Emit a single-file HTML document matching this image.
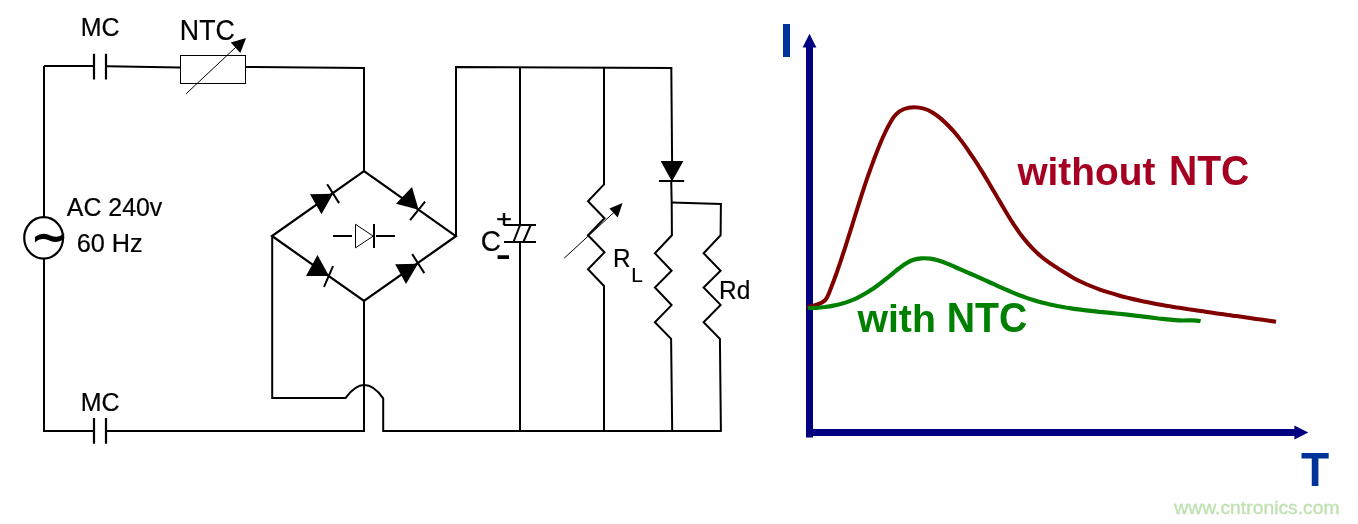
<!DOCTYPE html>
<html lang="en">
<head>
<meta charset="utf-8">
<title>NTC inrush current limiting circuit</title>
<style>
  html, body { margin: 0; padding: 0; background: #ffffff; }
  body { width: 1358px; height: 524px; overflow: hidden; }
  svg { display: block; will-change: transform; }
  text { font-family: "Liberation Sans", sans-serif; }
  .w  { fill: none; stroke: #000; stroke-width: 2; stroke-linecap: butt; stroke-linejoin: miter; }
  .m  { fill: none; stroke: #000; stroke-width: 1.5; }
  .t  { fill: none; stroke: #000; stroke-width: 1; }
  .k  { fill: #000; stroke: none; }
</style>
</head>
<body>
<svg width="1358" height="524" viewBox="0 0 1358 524">
  <rect width="1358" height="524" fill="#ffffff"/>

  <!-- circuit wires -->
  <g class="w">
    <path d="M94 66 H44 M44 66 V217"/>
    <path d="M44 259 V431 H94"/>
    <path d="M107 66.2 L180 67.6"/>
    <path d="M246 67 L364 67.9 V171.2"/>
    <path d="M107 431 H364 V300.8"/>
    <path d="M94 53.8 V79.6 M106 53.8 V79.6" stroke-width="2.2"/>
    <path d="M94 418 V443.7 M106 418 V443.7" stroke-width="2.2"/>
    <path d="M364 171.2 L272 236 L364 300.9 L455.9 236.2 Z" stroke-width="2.25"/>
    <path d="M456 236 V67 L672.2 68"/>
    <path d="M272.2 236 V397.9 H345.6 C351 390.8 357 385.1 364 385.1 C371.2 385.1 378 390.8 383.2 398.4 V431 H721.7"/>
    <path d="M520 67 V225 M520 242 V431"/>
    <path d="M604 67.5 V184.4 L588 201.2 L604.5 218.3 L588 235.2 L604.5 252.3 L588 269.2 L604 286 V431"/>
    <path d="M671.3 67.5 L672.1 162 M671.2 181 L671.7 203 L671.9 235.3 L654.9 253.2 L671.6 270.8 L654.9 287.5 L671.6 305.1 L654.9 322.3 L671.1 338.8 L672.2 431"/>
    <path d="M671.7 202.6 L720.9 204 L720.6 235.3 L703.6 253.2 L720.6 270.8 L703.6 287.5 L720.6 304.9 L703.6 322.3 L719.9 338.8 L720.9 431"/>
  </g>

  <!-- NTC thermistor -->
  <rect x="180.5" y="55.5" width="65" height="28" class="t"/>
  <path d="M186.1 93.8 L236 47" class="t"/>
  <path d="M246.1 38 L230.8 42.4 L240.3 52.9 Z" class="k"/>

  <!-- AC source -->
  <ellipse cx="43.65" cy="237.9" rx="19.4" ry="20.7" class="w" style="stroke-width:2.2"/>

  <!-- bridge diodes -->
  <g>
    <path d="M310 194.2 L333 193.7 L321.5 214.2 Z" class="k"/>
    <path d="M327.2 184.3 L339.1 203.1" class="w"/>
    <path d="M412 187 L396 203.8 L418.6 209.7 Z" class="k"/>
    <path d="M425.1 201.6 L410.1 220.1" class="w"/>
    <path d="M317.5 255 L306 276 L329 276 Z" class="k"/>
    <path d="M333 266.1 L324 286.9" class="w"/>
    <path d="M395.2 264.2 L418 263.8 L406 284.1 Z" class="k"/>
    <path d="M412.2 254.1 L424.3 273.1" class="w"/>
  </g>
  <!-- centre diode symbol -->
  <path d="M333 236 H352 M376 236 H395 M374 224 V248" class="w"/>
  <path d="M355.5 224.3 V247.8 L373.2 236.1 Z" class="t"/>

  <!-- electrolytic capacitor -->
  <path d="M504 225 H536 M504 242 H536" class="w"/>
  <path d="M520.1 225 L513.5 242 M530.7 225 L523.4 242" class="m" style="stroke-width:2"/>

  <!-- RL arrow -->
  <path d="M564.2 258.2 L614 212.3" class="t"/>
  <path d="M622.6 203 L609.5 208.4 L617.7 217.6 Z" class="k"/>

  <!-- output diode -->
  <path d="M660.6 161 H683.4 L672 181.4 Z" class="k"/>
  <path d="M658.9 181 H684.2" class="w"/>

  <!-- labels -->
  <text transform="translate(80.79 35.84) scale(1.0400 1.0529)" font-size="24" fill="#000" stroke="#000" stroke-width="0.2">MC</text>
  <text transform="translate(179.80 39.85) scale(1.0300 1.1200)" font-size="26" fill="#000" stroke="#000" stroke-width="0.2">NTC</text>
  <text transform="translate(66.87 215.84) scale(1.0365 1.0471)" font-size="24" fill="#000" stroke="#000" stroke-width="0.2">AC 240v</text>
  <text transform="translate(76.70 251.54) scale(1.0530 1.0588)" font-size="24" fill="#000" stroke="#000" stroke-width="0.2">60 Hz</text>
  <text transform="translate(80.79 410.84) scale(1.0400 1.0529)" font-size="24" fill="#000" stroke="#000" stroke-width="0.2">MC</text>
  <text transform="translate(480.72 250.90) scale(1.0748 1.1200)" font-size="26" fill="#000" stroke="#000" stroke-width="0.2">C</text>
  <text transform="translate(612.98 267.20) scale(1.0124 1.0545)" font-size="24" fill="#000" stroke="#000" stroke-width="0.2">R</text>
  <text transform="translate(631.32 281.60) scale(1.0366 1.0473)" font-size="20" fill="#000" stroke="#000" stroke-width="0.2">L</text>
  <text transform="translate(719.00 298.80) scale(1.0200 1.0400)" font-size="24" fill="#000" stroke="#000" stroke-width="0.2">Rd</text>
  <text transform="translate(29.94 251.69) scale(1.1680 1.1750)" font-size="40" font-weight="bold" style="font-family:'DejaVu Sans',sans-serif" fill="#000">~</text>
  <text transform="translate(496.17 226.86) scale(1.3333 1.1795)" font-size="20" fill="#000" stroke="#000" stroke-width="0.4">+</text>
  <text transform="translate(495.80 264.80) scale(1.5082 1.0600)" font-size="30" font-weight="bold" fill="#000">-</text>

  <!-- watermark backdrop -->
  <rect x="1158" y="494" width="200" height="30" fill="#fefefe"/>

  <!-- graph -->
  <rect x="806" y="46" width="7" height="391.5" fill="#000080"/>
  <rect x="806" y="429" width="490" height="7" fill="#000080"/>
  <path d="M809.5 33.7 L802.6 47.5 H816.4 Z" fill="#000080"/>
  <path d="M1308.3 432.4 L1294.4 425.6 V439.4 Z" fill="#000080"/>
  <path d="M807.1 307.2 C810.4 306.7 813.5 305.8 816.7 304.7 C819.9 303.6 823.3 302.3 825.4 299.9 C827.6 297.5 828.6 294.2 829.8 291.1 C831.0 288.0 832.2 284.9 833.4 281.8 C834.5 278.7 835.6 275.6 836.8 272.5 C837.9 269.3 838.9 266.2 840.0 263.1 C841.1 259.9 842.1 256.8 843.1 253.6 C844.2 250.5 845.2 247.3 846.2 244.2 C847.2 241.0 848.2 237.8 849.2 234.7 C850.2 231.5 851.2 228.3 852.2 225.1 C853.2 222.0 854.1 218.8 855.1 215.6 C856.1 212.4 857.1 209.3 858.1 206.1 C859.1 202.9 860.1 199.8 861.1 196.6 C862.1 193.4 863.2 190.3 864.2 187.1 C865.3 184.0 866.3 180.8 867.4 177.7 C868.5 174.5 869.6 171.4 870.7 168.3 C871.8 165.2 873.0 162.1 874.1 159.0 C875.3 155.9 876.5 152.8 877.7 149.7 C879.0 146.6 880.2 143.6 881.5 140.5 C882.8 137.5 884.2 134.5 885.6 131.5 C887.1 128.4 888.6 125.4 890.3 122.5 C891.9 119.5 893.8 116.7 896.0 114.4 C898.3 112.0 901.1 110.2 904.1 109.0 C907.2 107.8 910.6 107.2 914.0 107.2 C917.4 107.2 920.8 107.7 923.9 108.7 C927.0 109.6 930.0 111.0 932.8 112.7 C935.6 114.4 938.3 116.4 940.9 118.6 C943.4 120.8 945.9 123.1 948.2 125.5 C950.5 127.8 952.8 130.3 954.9 132.8 C957.1 135.4 959.2 138.0 961.2 140.6 C963.2 143.2 965.1 145.9 967.0 148.6 C968.9 151.4 970.8 154.1 972.6 156.9 C974.5 159.6 976.3 162.4 978.1 165.2 C979.8 168.0 981.6 170.8 983.3 173.6 C985.0 176.5 986.8 179.3 988.5 182.2 C990.2 185.0 991.8 187.9 993.5 190.8 C995.2 193.6 996.9 196.5 998.5 199.4 C1000.2 202.2 1001.9 205.1 1003.6 208.0 C1005.3 210.8 1007.0 213.7 1008.7 216.5 C1010.4 219.3 1012.2 222.1 1014.0 224.9 C1015.9 227.7 1017.8 230.4 1019.7 233.1 C1021.7 235.7 1023.7 238.4 1025.8 240.9 C1027.9 243.5 1030.1 246.0 1032.5 248.4 C1034.8 250.8 1037.2 253.1 1039.7 255.3 C1042.2 257.5 1044.8 259.5 1047.5 261.4 C1050.2 263.3 1053.0 265.1 1055.7 266.9 C1058.5 268.8 1061.3 270.6 1064.1 272.3 C1067.0 274.1 1069.8 275.8 1072.7 277.4 C1075.6 279.0 1078.6 280.5 1081.6 282.0 C1084.6 283.4 1087.6 284.7 1090.7 286.0 C1093.7 287.3 1096.8 288.5 1099.9 289.6 C1103.1 290.7 1106.2 291.7 1109.4 292.7 C1112.6 293.7 1115.7 294.6 1118.9 295.5 C1122.1 296.4 1125.4 297.2 1128.6 298.0 C1131.8 298.8 1135.0 299.6 1138.3 300.3 C1141.5 301.0 1144.8 301.7 1148.0 302.3 C1151.3 303.0 1154.6 303.6 1157.8 304.2 C1161.1 304.8 1164.4 305.4 1167.6 305.9 C1170.9 306.5 1174.2 307.0 1177.4 307.6 C1180.7 308.1 1184.0 308.6 1187.3 309.1 C1190.6 309.6 1193.8 310.1 1197.1 310.6 C1200.4 311.1 1203.7 311.6 1207.0 312.0 C1210.3 312.5 1213.6 313.0 1216.8 313.4 C1220.1 313.9 1223.4 314.3 1226.7 314.8 C1230.0 315.2 1233.3 315.7 1236.6 316.1 C1239.9 316.6 1243.1 317.0 1246.4 317.5 C1249.7 318.0 1253.0 318.4 1256.3 318.9 C1259.6 319.4 1262.9 319.8 1266.2 320.3 C1269.4 320.8 1272.7 321.3 1276.0 321.8" fill="none" stroke="#800000" stroke-width="4" stroke-linecap="butt" stroke-linejoin="round"/>
  <path d="M807.9 308.0 C810.7 308.0 813.5 307.9 816.4 307.8 C819.2 307.6 822.0 307.3 824.8 307.0 C827.6 306.6 830.4 306.2 833.2 305.6 C836.0 305.1 838.8 304.4 841.5 303.7 C844.3 302.9 847.0 302.1 849.6 301.1 C852.3 300.1 854.9 299.0 857.4 297.8 C860.0 296.6 862.5 295.2 864.9 293.8 C867.3 292.4 869.7 290.9 872.1 289.3 C874.4 287.7 876.8 286.1 879.0 284.4 C881.3 282.7 883.5 281.0 885.7 279.2 C888.0 277.4 890.1 275.6 892.3 273.8 C894.5 272.0 896.7 270.3 898.9 268.5 C901.2 266.8 903.5 265.0 905.9 263.5 C908.3 262.0 910.8 260.7 913.5 259.8 C916.1 258.9 918.9 258.5 921.7 258.3 C924.6 258.1 927.4 258.3 930.3 258.7 C933.1 259.1 935.8 259.7 938.5 260.5 C941.2 261.3 943.9 262.3 946.5 263.4 C949.2 264.4 951.8 265.5 954.4 266.7 C957.0 267.8 959.6 268.9 962.2 270.1 C964.8 271.2 967.4 272.3 970.0 273.5 C972.6 274.6 975.1 275.8 977.7 276.9 C980.3 278.1 982.9 279.3 985.5 280.4 C988.0 281.6 990.6 282.7 993.2 283.9 C995.8 285.1 998.4 286.2 1000.9 287.4 C1003.5 288.6 1006.1 289.7 1008.7 290.8 C1011.3 292.0 1013.9 293.0 1016.6 294.1 C1019.2 295.2 1021.8 296.2 1024.5 297.1 C1027.2 298.1 1029.8 299.0 1032.5 299.8 C1035.2 300.7 1038.0 301.5 1040.7 302.2 C1043.5 302.9 1046.2 303.6 1049.0 304.2 C1051.7 304.8 1054.5 305.4 1057.3 306.0 C1060.1 306.5 1062.9 307.0 1065.7 307.5 C1068.5 307.9 1071.3 308.4 1074.1 308.8 C1076.9 309.2 1079.7 309.5 1082.5 309.9 C1085.3 310.3 1088.1 310.6 1090.9 310.9 C1093.7 311.2 1096.5 311.5 1099.3 311.8 C1102.2 312.1 1105.0 312.4 1107.8 312.7 C1110.6 313.0 1113.4 313.3 1116.2 313.5 C1119.1 313.8 1121.9 314.1 1124.7 314.4 C1127.5 314.7 1130.3 315.0 1133.2 315.3 C1136.0 315.6 1138.8 316.0 1141.6 316.3 C1144.4 316.7 1147.2 317.0 1150.0 317.4 C1152.8 317.8 1155.6 318.1 1158.5 318.5 C1161.3 318.8 1164.1 319.1 1166.9 319.4 C1169.7 319.7 1172.5 319.9 1175.3 320.1 C1178.2 320.3 1181.0 320.4 1183.8 320.5 C1186.6 320.5 1189.5 320.4 1192.3 320.4 C1195.1 320.4 1197.9 320.6 1200.6 321.3" fill="none" stroke="#008000" stroke-width="4.2" stroke-linecap="butt" stroke-linejoin="round"/>
  <text transform="translate(779.70 57.10) scale(1.0566 1.0498)" font-size="46" font-weight="bold" fill="#003399">I</text>
  <text transform="translate(1300.90 485.80) scale(1.0028 1.0403)" font-size="46" font-weight="bold" fill="#003399">T</text>
  <text transform="translate(1017.40 184.70) scale(1.0100 1.0120)" font-size="39" font-weight="bold" fill="#a50021"><tspan font-size="39.00" textLength="136.55" lengthAdjust="spacingAndGlyphs">without</tspan><tspan font-size="39.00" textLength="13.55" lengthAdjust="spacingAndGlyphs"> </tspan><tspan font-size="41.34" textLength="79.52" lengthAdjust="spacingAndGlyphs">NTC</tspan></text>
  <text transform="translate(857.50 332.40) scale(1.0054 1.0180)" font-size="39" font-weight="bold" fill="#008000">with <tspan font-size="41.34" textLength="80.16" lengthAdjust="spacingAndGlyphs">NTC</tspan></text>
  <text transform="translate(1174.30 514.45) scale(1.0169 0.9850)" font-size="19" fill="#c0e1b2" stroke="#c0e1b2" stroke-width="0.35">www.cntronics.com</text>
</svg>
</body>
</html>
